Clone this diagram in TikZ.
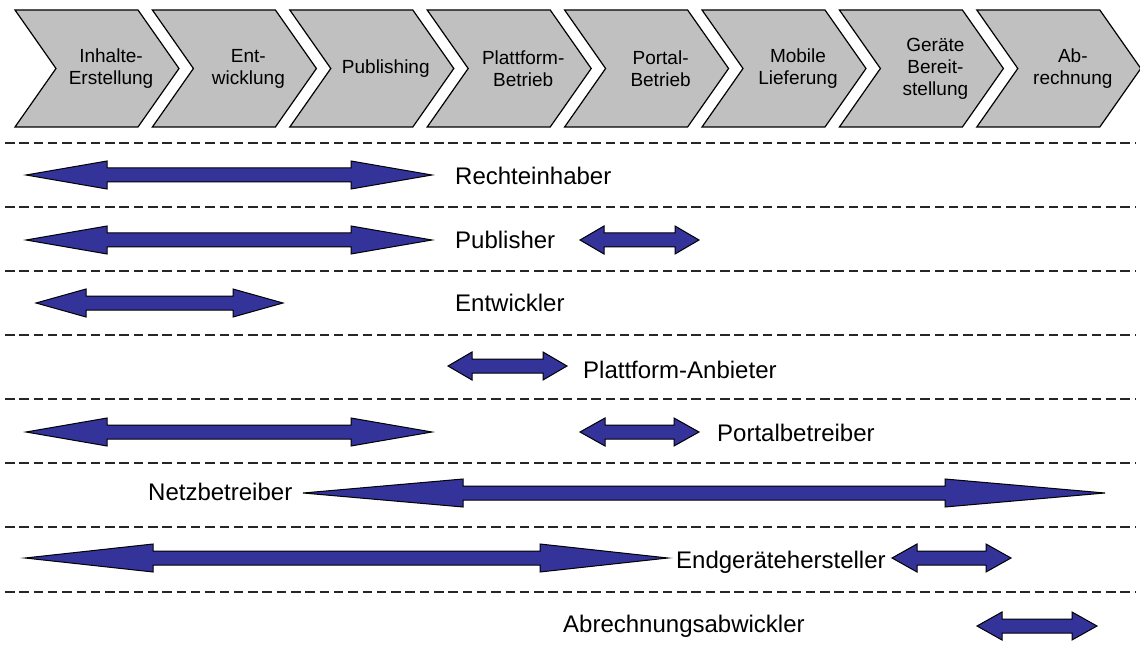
\documentclass[tikz,border=0pt]{standalone}
\usepackage{fontspec}
\setmainfont{Liberation Sans}
\usepackage{tikz}

\definecolor{chevgray}{RGB}{192,192,192}
\definecolor{arrowblue}{RGB}{51,51,153}

\tikzset{
  chevron/.style={draw=black, line width=1.2pt, fill=chevgray, line join=miter},
  chevtext/.style={align=center, font=\fontsize{19}{22}\selectfont, inner sep=0pt},
  rowline/.style={black!85, line width=1.4pt, dash pattern=on 9.5pt off 4.8pt},
  blockarrow/.style={draw=black, line width=1pt, fill=arrowblue, line join=miter},
  rolelabel/.style={anchor=base west, font=\fontsize{24}{28}\selectfont, inner sep=0pt},
}

\begin{document}
\begin{tikzpicture}[x=1pt, y=-1pt]
        \useasboundingbox (0,0) rectangle (1140,652);

        % ====================
        % 1. Value chain
        % ====================
        \foreach \i/\txt in {0/{Inhalte-\\Erstellung}, 1/{Ent-\\wicklung}, 2/{Publishing},
                             3/{Plattform-\\Betrieb}, 4/{Portal-\\Betrieb}, 5/{Mobile\\Lieferung},
                             6/{Geräte\\Bereit-\\stellung}, 7/{Ab-\\rechnung}} {
            \pgfmathsetmacro{\L}{15+137.4*\i}
            \draw[chevron] (\L,10) -- ++(123,0) -- ++(41,58.5) -- ++(-41,58.5)
                -- ++(-123,0) -- ++(41,-58.5) -- cycle;
            \node[chevtext] (chev\i) at (\L+96,68.5) {\txt};
        }

        % ====================
        % 2. Row separators
        % ====================
        \foreach \y in {143, 207, 271, 335, 399, 463, 527, 592} {
            \draw[rowline] (5,\y) -- (1135,\y);
        }

        % ====================
        % 3. Roles
        % ====================
        \node[rolelabel] (rechte)  at (455,185) {Rechteinhaber};
        \node[rolelabel] (publ)    at (455,249) {Publisher};
        \node[rolelabel] (entw)    at (455,312) {Entwickler};
        \node[rolelabel] (plattf)  at (583,378) {Plattform-Anbieter};
        \node[rolelabel] (portal)  at (717,441) {Portalbetreiber};
        \node[rolelabel] (netz)    at (148,500) {Netzbetreiber};
        \node[rolelabel] (endger)  at (676,568) {Endgerätehersteller};
        \node[rolelabel] (abrech)  at (563,632) {Abrechnungsabwickler};

        % ====================
        % 4. Block arrows (row y / left tip / right tip / head length)
        % ====================
        \foreach \y/\xa/\xb/\hl in {175/26/432/81, 240/26/432/81, 240/580/699/24,
                                    303/36/283/50, 366/448/567/24, 432/26/432/81,
                                    432/580/699/25, 493/303/1105/160, 558/25/668/128,
                                    558/892/1011/25, 626/977/1097/25} {
            \draw[blockarrow] (\xa,\y) -- (\xa+\hl,\y-14) -- (\xa+\hl,\y-7)
                -- (\xb-\hl,\y-7) -- (\xb-\hl,\y-14) -- (\xb,\y)
                -- (\xb-\hl,\y+14) -- (\xb-\hl,\y+7) -- (\xa+\hl,\y+7)
                -- (\xa+\hl,\y+14) -- cycle;
        }

    \end{tikzpicture}
\end{document}
